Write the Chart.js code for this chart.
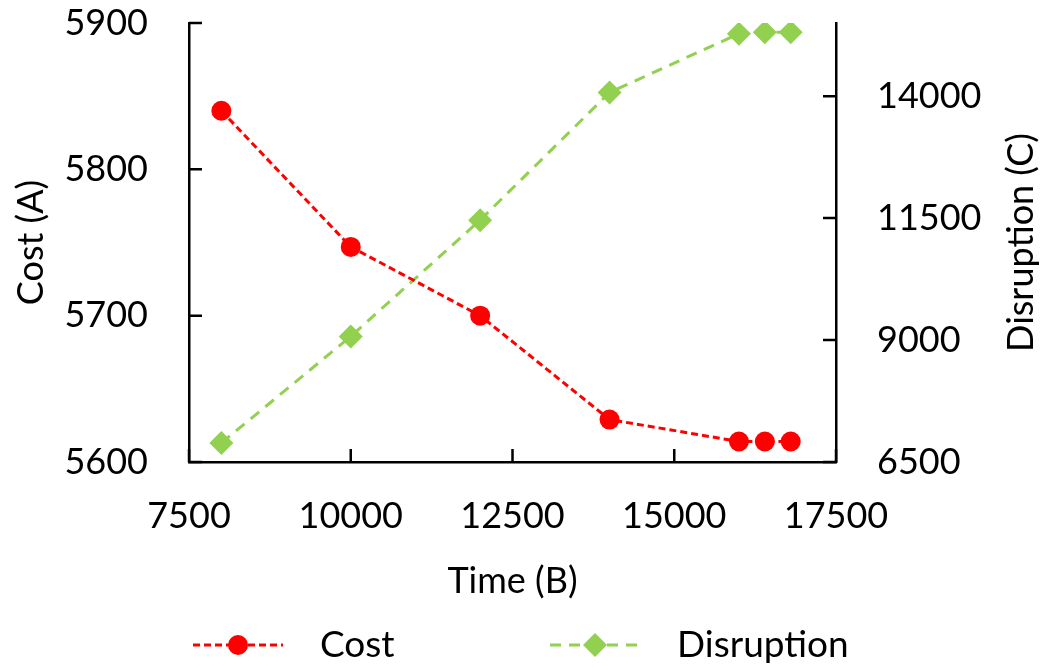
<!DOCTYPE html>
<html>
<head>
<meta charset="utf-8">
<script src="https://cdn.jsdelivr.net/npm/chart.js@4"></script>
<style>
  html, body { margin: 0; padding: 0; background: #fff; }
  #wrap { width: 1047px; height: 667px; }
</style>
</head>
<body>
<div id="wrap"><canvas id="chart" width="1047" height="667"></canvas></div>
<script>
// values
const timeValues = [8000, 10000, 12000, 14000, 16000, 16400, 16800];
const costValues = [5840, 5747, 5700, 5629, 5614, 5614, 5614];
const disruptionValues = [6890, 9075, 11458, 14076, 15280, 15310, 15310];
const xTicks = [7500, 10000, 12500, 15000, 17500];
const costTicks = [5600, 5700, 5800, 5900];
const disruptionTicks = [6500, 9000, 11500, 14000];

const FONT = 'Lato, "Open Sans", sans-serif';
const RED = '#ff0000';
const GREEN = '#92d050';

const toPoints = ys => timeValues.map((t, i) => ({ x: t, y: ys[i] }));
const plain = v => String(v);

// ticks pointing into the plot, plus right title and the legend
const extras = {
    id: 'extras',
    afterDraw(chart) {
        const { ctx, chartArea, scales } = chart;
        const len = 13;
        ctx.save();
        ctx.strokeStyle = '#000';
        ctx.lineWidth = 2.5;
        ctx.beginPath();
        xTicks.forEach(v => {
            const px = scales.x.getPixelForValue(v);
            ctx.moveTo(px, chartArea.bottom);
            ctx.lineTo(px, chartArea.bottom - len);
        });
        costTicks.forEach(v => {
            const py = scales.y.getPixelForValue(v);
            ctx.moveTo(chartArea.left, py);
            ctx.lineTo(chartArea.left + len, py);
        });
        disruptionTicks.forEach(v => {
            const py = scales.y2.getPixelForValue(v);
            ctx.moveTo(chartArea.right, py);
            ctx.lineTo(chartArea.right - len, py);
        });
        ctx.stroke();

        // right axis title, reading bottom to top
        ctx.fillStyle = '#000';
        ctx.font = '36px ' + FONT;
        ctx.textAlign = 'center';
        ctx.textBaseline = 'middle';
        ctx.translate(1021, (chartArea.top + chartArea.bottom) / 2);
        ctx.rotate(-Math.PI / 2);
        ctx.fillText('Disruption (C)', 0, 0);
        ctx.restore();

        // legend
        const ly = 645;
        chart.data.datasets.forEach((ds, i) => {
            const x0 = i === 0 ? 193 : 550;
            const x1 = x0 + 90;
            const mx = (x0 + x1) / 2;
            ctx.save();
            ctx.strokeStyle = ds.borderColor;
            ctx.lineWidth = ds.borderWidth;
            ctx.setLineDash(ds.borderDash);
            ctx.beginPath();
            ctx.moveTo(x0, ly);
            ctx.lineTo(x1, ly);
            ctx.stroke();
            ctx.setLineDash([]);
            ctx.fillStyle = ds.pointBackgroundColor;
            ctx.beginPath();
            if (ds.pointStyle === 'rectRot') {
                const r = ds.pointRadius;
                ctx.moveTo(mx, ly - r);
                ctx.lineTo(mx + r, ly);
                ctx.lineTo(mx, ly + r);
                ctx.lineTo(mx - r, ly);
                ctx.closePath();
            } else {
                ctx.arc(mx, ly, ds.pointRadius, 0, Math.PI * 2);
            }
            ctx.fill();
            ctx.fillStyle = '#000';
            ctx.font = '37px ' + FONT;
            ctx.textAlign = 'left';
            ctx.textBaseline = 'middle';
            ctx.fillText(ds.label, x1 + 37, ly);
            ctx.restore();
        });
    }
};

const ctx = document.getElementById('chart').getContext('2d');

new Chart(ctx, {
    type: 'line',
    data: {
        datasets: [{
            label: 'Cost',
            data: toPoints(costValues),
            yAxisID: 'y',
            borderColor: RED,
            backgroundColor: RED,
            pointBackgroundColor: RED,
            pointBorderWidth: 0,
            pointStyle: 'circle',
            pointRadius: 10,
            borderWidth: 3,
            borderDash: [7, 4],
            tension: 0
        }, {
            label: 'Disruption',
            data: toPoints(disruptionValues),
            yAxisID: 'y2',
            borderColor: GREEN,
            backgroundColor: GREEN,
            pointBackgroundColor: GREEN,
            pointBorderWidth: 0,
            pointStyle: 'rectRot',
            pointRadius: 12,
            borderWidth: 3,
            borderDash: [11, 8],
            tension: 0
        }]
    },
    options: {
        responsive: false,
        animation: false,
        layout: { padding: { top: 23, left: 0, right: 0, bottom: 0 } },
        plugins: {
            legend: { display: false },
            tooltip: { enabled: false }
        },
        scales: {
            x: {
                type: 'linear',
                min: 7500,
                max: 17500,
                afterBuildTicks: s => { s.ticks = xTicks.map(v => ({ value: v })); },
                afterFit: s => { s.height = 205; s.paddingLeft = 0; s.paddingRight = 0; },
                grid: { display: true, drawOnChartArea: false, drawTicks: false },
                border: { color: '#000', width: 2.5 },
                ticks: { color: '#000', font: { family: FONT, size: 36 }, padding: 33, maxRotation: 0, callback: plain },
                title: {
                    display: true,
                    text: 'Time (B)',
                    color: '#000',
                    font: { family: FONT, size: 36 },
                    padding: { top: 0, bottom: 64 }
                }
            },
            y: {
                position: 'left',
                min: 5600,
                max: 5900,
                afterBuildTicks: s => { s.ticks = costTicks.map(v => ({ value: v })); },
                afterFit: s => { s.width = 189; s.paddingTop = 0; s.paddingBottom = 0; },
                grid: { display: true, drawOnChartArea: false, drawTicks: false },
                border: { color: '#000', width: 2.5 },
                ticks: { color: '#000', font: { family: FONT, size: 36 }, padding: 41, callback: plain },
                title: {
                    display: true,
                    text: 'Cost (A)',
                    color: '#000',
                    font: { family: FONT, size: 36 },
                    padding: { top: 10, bottom: 0 }
                }
            },
            y2: {
                position: 'right',
                min: 6500,
                max: 15500,
                afterBuildTicks: s => { s.ticks = disruptionTicks.map(v => ({ value: v })); },
                afterFit: s => { s.width = 211; s.paddingTop = 0; s.paddingBottom = 0; },
                grid: { display: true, drawOnChartArea: false, drawTicks: false },
                border: { color: '#000', width: 2.5 },
                ticks: { color: '#000', font: { family: FONT, size: 36 }, padding: 41, callback: plain }
            }
        }
    },
    plugins: [extras]
});
</script>
</body>
</html>
